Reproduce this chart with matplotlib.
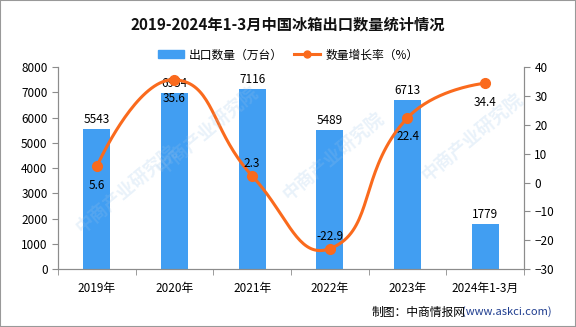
import numpy as np
import matplotlib
matplotlib.use("Agg")
import matplotlib.pyplot as plt
from matplotlib.patches import Rectangle
from matplotlib.lines import Line2D
from matplotlib.patches import Patch

plt.rcParams['font.family'] = ['Noto Sans CJK SC', 'DejaVu Sans']

# 数据
years = ['2019年', '2020年', '2021年', '2022年', '2023年', '2024年1-3月']
export_qty = [5543, 6954, 7116, 5489, 6713, 1779]      # 出口数量（万台）
growth = [5.6, 35.6, 2.3, -22.9, 22.4, 34.4]            # 数量增长率（%）
label_pos = ['below', 'below', 'above', 'above', 'below', 'below']

bar_color = '#419ef2'
line_color = '#fa6a1d'
axis_color = '#8c8c8c'

fig = plt.figure(figsize=(5.76, 3.27), dpi=100)
ax = fig.add_axes([0.1007, 0.177, 0.809, 0.618])
ax2 = ax.twinx()

x = np.arange(len(years))
ax.bar(x, export_qty, width=0.35, color=bar_color, zorder=2)
for xi, v in zip(x, export_qty):
    ax.annotate(str(v), (xi, v), xytext=(0, 3), textcoords='offset pixels',
                ha='center', va='bottom', fontsize=8.5, color='black')

ax.set_xlim(-0.5, len(years) - 0.5)
ax.set_ylim(0, 8000)
ax.set_yticks(range(0, 8001, 1000))
ax2.set_ylim(-30, 40)
ax2.set_yticks(range(-30, 41, 10))

ax.set_xticks(x)
ax.set_xticklabels(years, fontsize=8.5)
ax.set_xticks(np.arange(-0.5, len(years), 1), minor=True)
ax.tick_params(axis='x', which='major', length=0, pad=9)
ax.tick_params(axis='x', which='minor', length=4, color=axis_color)
ax.tick_params(axis='y', labelsize=8.5, length=4, color=axis_color)
ax2.tick_params(axis='y', labelsize=8.5, length=4, color=axis_color)

for a in (ax, ax2):
    a.spines['top'].set_visible(False)
    for s in ('left', 'right', 'bottom'):
        a.spines[s].set_color(axis_color)
ax.patch.set_visible(False)

# 平滑曲线（按像素坐标计算贝塞尔控制点）
pts = ax2.transData.transform(np.column_stack([x, growth]))
smooth = 0.5
n = len(pts)
cps = []
for i in range(n):
    if i == 0 or i == n - 1:
        cps.append((pts[i], pts[i]))
        continue
    p, prv, nxt = pts[i], pts[i - 1], pts[i + 1]
    v = nxt - prv
    l0 = np.hypot(*(p - prv))
    l1 = np.hypot(*(nxt - p))
    r = l1 / (l0 + l1)
    cps.append((p - v * smooth * (1 - r), p + v * smooth * r))
curve = []
t = np.linspace(0, 1, 40)[:, None]
for i in range(n - 1):
    p0 = pts[i]
    c1 = cps[i][1]
    c2 = cps[i + 1][0]
    p3 = pts[i + 1]
    seg = ((1 - t) ** 3) * p0 + 3 * ((1 - t) ** 2) * t * c1 + 3 * (1 - t) * t ** 2 * c2 + t ** 3 * p3
    curve.append(seg)
curve = ax2.transData.inverted().transform(np.vstack(curve))
ax2.plot(curve[:, 0], curve[:, 1], color=line_color, lw=2.2, zorder=3, solid_capstyle='round')
ax2.plot(x, growth, 'o', color=line_color, ms=7, zorder=4)

for xi, g, pos in zip(x, growth, label_pos):
    dy = -19 if pos == 'below' else 12
    ax2.annotate(f'{g}', (xi, g), xytext=(0, dy), textcoords='offset pixels',
                 ha='center', va='center', fontsize=8.5, color='black', zorder=5)

# 水印（淡色，只放在图内）
for (wx, wy) in [(0.36, 0.60), (0.58, 0.52), (0.82, 0.58), (0.22, 0.42)]:
    fig.text(wx, wy, '中商产业研究院', fontsize=13, color='#9cc3e8', alpha=0.22, rotation=40,
             ha='center', va='center', zorder=10, fontweight='bold')

# 标题与图例
fig.text(0.5, 0.924, '2019-2024年1-3月中国冰箱出口数量统计情况', ha='center', va='center',
         fontsize=11, fontweight='bold', color='#111111')
handles = [Patch(color=bar_color, label='出口数量（万台）'),
           Line2D([0], [0], color=line_color, lw=2.2, marker='o', ms=5, label='数量增长率（%）')]
fig.legend(handles=handles, loc='center', bbox_to_anchor=(0.5, 0.832), ncol=2, frameon=False,
           fontsize=8.5, handlelength=2.2, handleheight=0.7, columnspacing=1.0, handletextpad=0.4)

# 来源
fig.text(0.957, 0.046, '(www.askci.com)', ha='right', va='center', fontsize=8, color='#1f3d8f')
fig.text(0.809, 0.046, '制图：中商情报网', ha='right', va='center', fontsize=8.5, color='black')

# 外框
fig.patches.append(Rectangle((0, 0), 1, 1, transform=fig.transFigure, fill=False,
                             edgecolor='#999999', lw=1.5))

fig.savefig('out.png', dpi=100)
